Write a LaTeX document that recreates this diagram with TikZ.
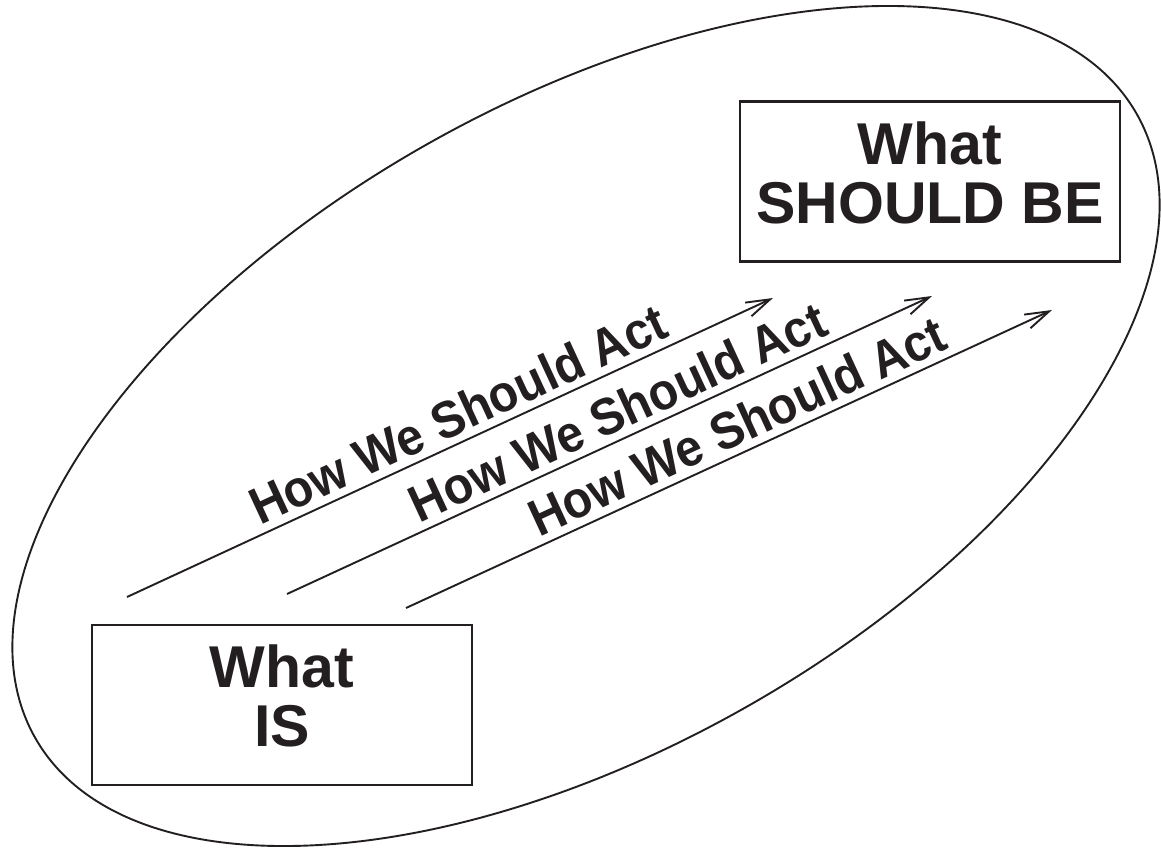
\documentclass[tikz,border=0pt]{standalone}
\usepackage{fontspec}
\setmainfont{Liberation Sans}
\usetikzlibrary{arrows.meta}
\definecolor{ink}{HTML}{231F20}
\begin{document}
\begin{tikzpicture}[x=1pt,y=-1pt,
  outline/.style={draw=ink, line width=1.9pt},
  boxnode/.style={draw=ink, line width=2.2pt, minimum width=380pt, minimum height=160pt,
     inner sep=0pt, align=center, text=ink, font=\fontsize{59}{61}\selectfont\bfseries},
  actarrow/.style={draw=ink, line width=1.9pt, -{Straight Barb[length=24pt,width=15pt]}},
  actlabel/.style={pos=0.53, sloped, above=7pt, inner sep=0pt, text=ink,
     font=\fontsize{48}{50}\selectfont\bfseries}]
\useasboundingbox (0,0) rectangle (1161,848);
% enclosing ellipse
\draw[outline, rotate around={29.5:(586,426)}] (586,426) ellipse [x radius=633, y radius=323.5];
% boxes
\node[boxnode] (is) at (282,705) {\raisebox{3pt}{\begin{tabular}{@{}c@{}}What\\[-2pt] IS\end{tabular}}};
\node[boxnode] (be) at (930,181.5) {\raisebox{4pt}{\begin{tabular}{@{}c@{}}What\\[-2pt] SHOULD BE\end{tabular}}};
% arrow end points
\coordinate (a1s) at (127,597);
\coordinate (a1e) at (773,298);
\coordinate (a2s) at (287,594);
\coordinate (a2e) at (932,296);
\coordinate (a3s) at (406,608);
\coordinate (a3e) at (1052,310);
\draw[actarrow] (a1s) -- (a1e) node[actlabel] (t1) {\scalebox{1}[1.08]{How We Should Act}};
\draw[actarrow] (a2s) -- (a2e) node[actlabel] (t2) {\scalebox{1}[1.08]{How We Should Act}};
\draw[actarrow] (a3s) -- (a3e) node[actlabel] (t3) {\scalebox{1}[1.08]{How We Should Act}};
\end{tikzpicture}
\end{document}
